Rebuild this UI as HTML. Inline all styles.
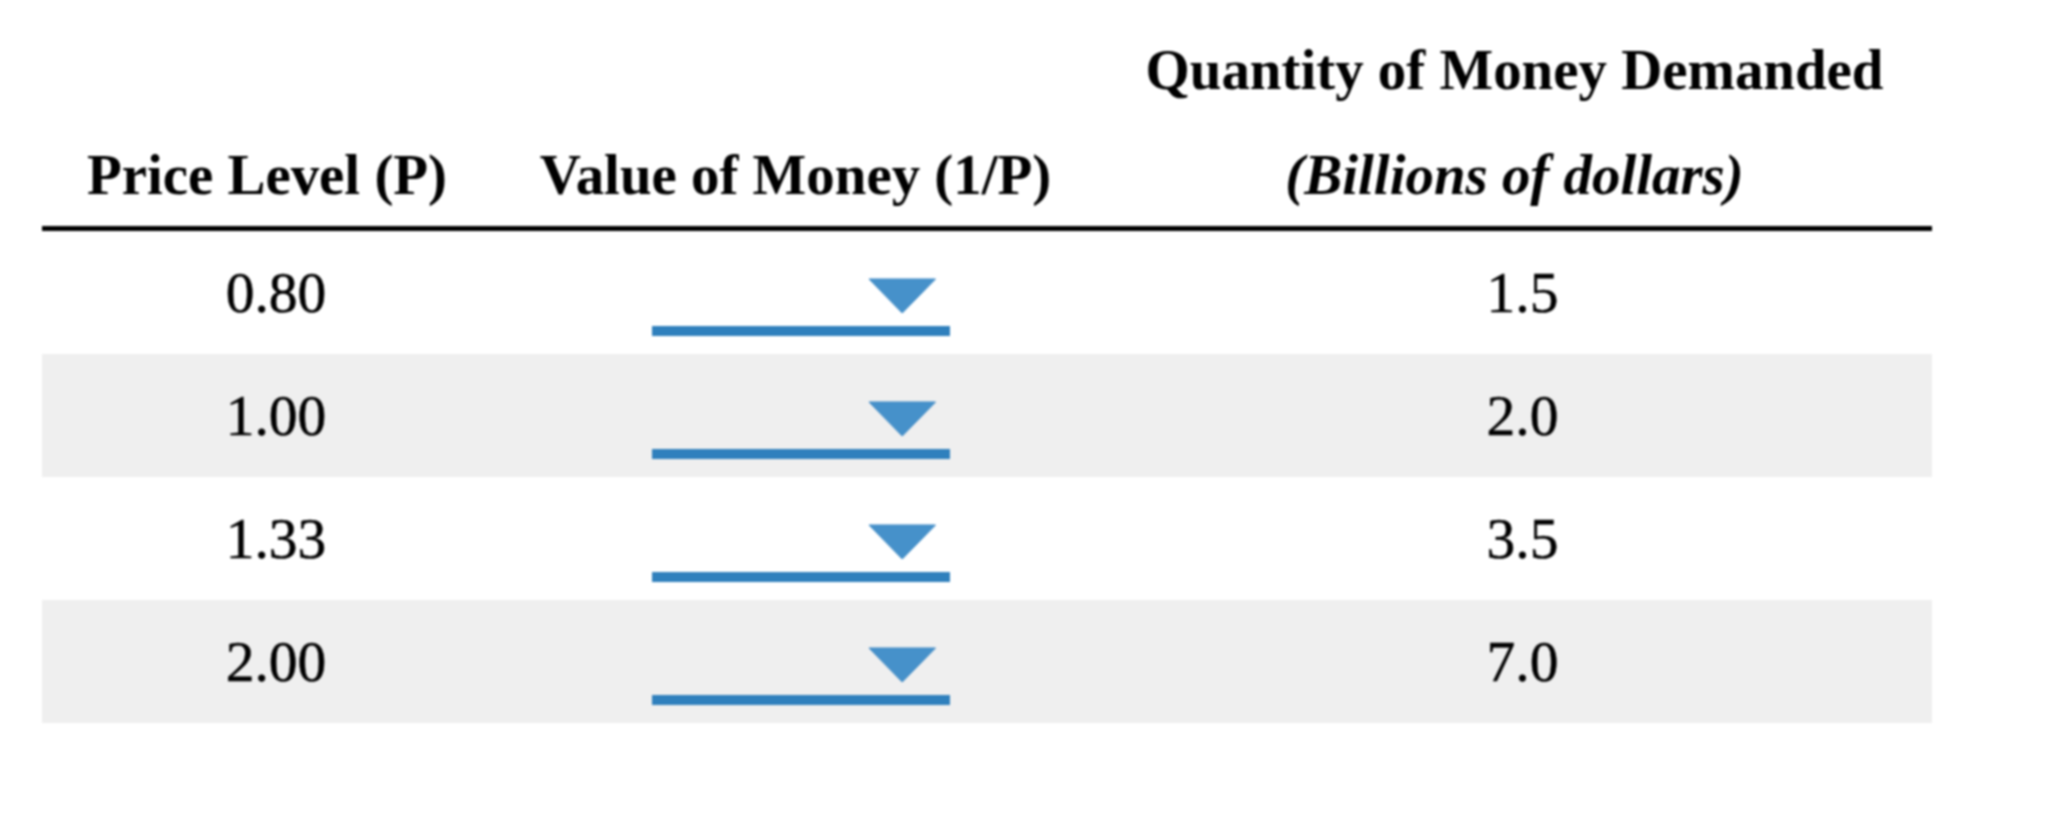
<!DOCTYPE html>
<html lang="en">
<head>
<meta charset="utf-8">
<title>Money demand table</title>
<style>
html,body{margin:0;padding:0;background:#fff;}
body{width:2046px;height:832px;position:relative;overflow:hidden;
  font-family:"Liberation Serif","Times New Roman",Times,serif;font-size:56.9px;color:#000;}
table{position:absolute;left:42px;top:0;width:1890px;border-collapse:collapse;table-layout:fixed;filter:blur(0.9px);}
col.c1{width:466px;} col.c2{width:585px;} col.c3{width:839px;}
th,td{padding:0;text-align:center;white-space:nowrap;}
thead th{height:226px;vertical-align:bottom;font-weight:bold;border-bottom:5px solid #000;line-height:105px;}
thead th .h{display:block;position:relative;top:2px;font-size:56.2px;transform:scaleX(1.0125);transform-origin:50% 50%;}
.h1{left:-8px;} .h2{left:-5.5px;} .h3{left:2px;top:2px !important;} .h4{left:1.5px;}
tbody td{height:123px;vertical-align:middle;line-height:60px;font-size:57.5px;-webkit-text-stroke:0.5px #000;}
tbody td span.v{position:relative;display:inline-block;}
td.a span.v{left:1px;} td.c span.v{left:10px;}
tbody tr:nth-child(even) td{background:#efefef;}
.dd{display:block;position:relative;width:298px;height:123px;margin:0 auto;}
.dd i{position:absolute;left:0;right:0;top:95px;height:10px;background:#2f80bd;}
.dd svg{position:absolute;left:216px;top:47px;}
</style>
</head>
<body>
<table>
<colgroup><col class="c1"><col class="c2"><col class="c3"></colgroup>
<thead>
<tr>
<th><span class="h h1">Price Level (P)</span></th>
<th><span class="h h2">Value of Money (1/P)</span></th>
<th><span class="h h3">Quantity of Money Demanded</span><span class="h h4"><em>(Billions of dollars)</em></span></th>
</tr>
</thead>
<tbody>
<tr><td class="a"><span class="v">0.80</span></td><td><span class="dd"><svg width="69" height="36" viewBox="-1 -1 69 36"><polygon points="0,0 66.5,0 33.25,34" fill="#4691ca" stroke="#3a87c4" stroke-width="1"/></svg><i></i></span></td><td class="c"><span class="v">1.5</span></td></tr>
<tr><td class="a"><span class="v">1.00</span></td><td><span class="dd"><svg width="69" height="36" viewBox="-1 -1 69 36"><polygon points="0,0 66.5,0 33.25,34" fill="#4691ca" stroke="#3a87c4" stroke-width="1"/></svg><i></i></span></td><td class="c"><span class="v">2.0</span></td></tr>
<tr><td class="a"><span class="v">1.33</span></td><td><span class="dd"><svg width="69" height="36" viewBox="-1 -1 69 36"><polygon points="0,0 66.5,0 33.25,34" fill="#4691ca" stroke="#3a87c4" stroke-width="1"/></svg><i></i></span></td><td class="c"><span class="v">3.5</span></td></tr>
<tr><td class="a"><span class="v">2.00</span></td><td><span class="dd"><svg width="69" height="36" viewBox="-1 -1 69 36"><polygon points="0,0 66.5,0 33.25,34" fill="#4691ca" stroke="#3a87c4" stroke-width="1"/></svg><i></i></span></td><td class="c"><span class="v">7.0</span></td></tr>
</tbody>
</table>
</body>
</html>
